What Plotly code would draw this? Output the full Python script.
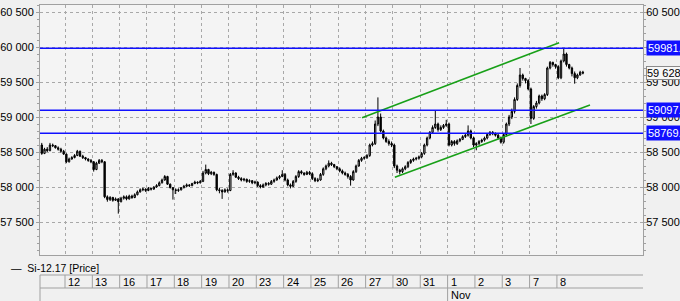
import plotly.graph_objects as go

# ---------------- data ----------------
day_labels = ["", "12", "13", "16", "17", "18", "19", "20", "23", "24", "25",
              "26", "27", "30", "31", "1", "2", "3", "7", "8"]
bars_per_day = [9] + [10] * 19
month_label = "Nov"
month_day = "1"

first_open = 58600
closes = [
    58480, 58540, 58520, 58600, 58590, 58560, 58540, 58510, 58470,
    58360, 58400, 58420, 58450, 58510, 58440, 58420, 58400, 58380, 58360,
    58250, 58340, 58380, 58360, 57860, 57820, 57850, 57810, 57830, 57790,
    57840, 57860, 57830, 57870, 57850, 57890, 57930, 57960, 57970, 57950,
    57980, 57970, 58000, 58020, 58060, 58100, 58150, 58040, 57990, 57960,
    57950, 57960, 57990, 58010, 58030, 58020, 58050, 58070, 58060, 58080,
    58200, 58250, 58190, 58210, 58180, 57960, 57950, 57930, 57960, 57950,
    58180, 58200, 58140, 58120, 58100, 58110, 58080, 58090, 58060, 58070,
    58020, 58000, 58030, 58050, 58040, 58080, 58100, 58130, 58150, 58180,
    58100, 58030, 58010, 58080, 58150, 58220, 58200, 58180, 58210, 58190,
    58120, 58090, 58100, 58180, 58260, 58300, 58340, 58320, 58290, 58260,
    58230, 58200, 58180, 58150, 58100, 58220, 58300, 58380, 58410, 58420,
    58450, 58600, 58620, 58900, 59000, 58800, 58700, 58650, 58620, 58600,
    58300, 58240, 58220, 58260, 58290, 58350, 58380, 58400, 58410, 58430,
    58480, 58600, 58700, 58780, 58850, 58900, 58820, 58850, 58880, 58900,
    58600, 58650, 58620, 58660, 58680, 58720, 58740, 58800, 58700, 58600,
    58620, 58650, 58670, 58700, 58750, 58780, 58760, 58740, 58700, 58640,
    58750, 58900, 59000, 59080, 59250, 59450, 59600, 59550, 59520, 59400,
    58980, 59150, 59200, 59300, 59260, 59320, 59700, 59780, 59750, 59720,
    59560, 59800, 59900, 59750, 59700, 59620, 59560, 59600, 59640, 59628,
]
highs = [
    58630, 58560, 58570, 58630, 58620, 58600, 58580, 58560, 58530,
    58480, 58420, 58440, 58470, 58530, 58520, 58460, 58430, 58410, 58400,
    58370, 58360, 58400, 58400, 58370, 57880, 57870, 57860, 57850, 57840,
    57860, 57880, 57880, 57890, 57890, 57910, 57950, 57980, 57990, 57980,
    58000, 57990, 58010, 58040, 58080, 58120, 58170, 58160, 58050, 58000,
    57980, 57980, 58000, 58030, 58050, 58040, 58060, 58090, 58080, 58100,
    58230, 58320, 58260, 58230, 58220, 58190, 57990, 57970, 57980, 57980,
    58200, 58240, 58210, 58160, 58140, 58130, 58120, 58110, 58100, 58090,
    58080, 58040, 58050, 58070, 58070, 58100, 58120, 58150, 58170, 58240,
    58200, 58120, 58050, 58100, 58170, 58240, 58240, 58210, 58230, 58230,
    58210, 58140, 58130, 58200, 58280, 58320, 58380, 58360, 58330, 58300,
    58280, 58250, 58220, 58200, 58170, 58240, 58320, 58400, 58430, 58440,
    58470, 58620, 58650, 58950, 59280, 59050, 58820, 58720, 58680, 58650,
    58620, 58320, 58260, 58280, 58310, 58370, 58400, 58420, 58430, 58450,
    58500, 58620, 58720, 58800, 58880, 59090, 58920, 58880, 58900, 58960,
    58920, 58670, 58670, 58680, 58700, 58740, 58770, 58880, 58820, 58720,
    58640, 58670, 58690, 58720, 58770, 58800, 58800, 58780, 58760, 58720,
    58770, 58920, 59030, 59120, 59280, 59480, 59700, 59620, 59560, 59540,
    59420, 59170, 59230, 59320, 59320, 59340, 59720, 59800, 59790, 59760,
    59740, 59820, 59985, 59920, 59760, 59720, 59650, 59620, 59660, 59660,
]
lows = [
    58460, 58470, 58500, 58510, 58570, 58550, 58520, 58490, 58460,
    58340, 58350, 58390, 58410, 58440, 58430, 58400, 58380, 58360, 58340,
    58220, 58240, 58330, 58340, 57840, 57790, 57800, 57790, 57800, 57620,
    57780, 57820, 57810, 57820, 57830, 57840, 57880, 57920, 57940, 57930,
    57940, 57950, 57960, 57990, 58010, 58050, 58090, 58030, 57980, 57820,
    57900, 57930, 57950, 57980, 58000, 58000, 58010, 58040, 58040, 58050,
    58070, 58180, 58170, 58170, 58160, 57940, 57910, 57830, 57920, 57920,
    57940, 58160, 58130, 58100, 58080, 58080, 58060, 58060, 58040, 58040,
    58000, 57980, 57990, 58010, 58020, 58030, 58060, 58090, 58110, 58140,
    58080, 58010, 57980, 58000, 58060, 58130, 58180, 58160, 58170, 58170,
    58100, 58070, 58070, 58090, 58160, 58240, 58280, 58300, 58270, 58240,
    58210, 58180, 58160, 58120, 58020, 58090, 58200, 58290, 58360, 58390,
    58400, 58430, 58580, 58600, 58870, 58780, 58680, 58630, 58590, 58570,
    58270, 58200, 58180, 58200, 58240, 58270, 58330, 58360, 58380, 58390,
    58410, 58460, 58580, 58680, 58760, 58830, 58790, 58800, 58830, 58860,
    58580, 58580, 58590, 58600, 58640, 58670, 58700, 58720, 58680, 58570,
    58525, 58600, 58630, 58650, 58680, 58730, 58740, 58720, 58680, 58620,
    58620, 58720, 58870, 58970, 59050, 59230, 59420, 59520, 59480, 59380,
    58900, 58960, 59120, 59180, 59230, 59240, 59300, 59680, 59720, 59690,
    59540, 59540, 59780, 59720, 59680, 59580, 59476, 59540, 59590, 59610,
]
opens = [first_open] + closes[:-1]

# horizontal levels (blue) and their labels
levels = [59981, 59097, 58769]
level_labels = ["59981.00", "59097.00", "58769.00"]
last_price = 59628
last_price_label = "59 628"

# trend channel (green) : (day position, price)
upper_x = [10.87, 18.08]
upper_y = [58990, 60061]
lower_x = [12.07, 19.21]
lower_y = [58139, 59171]

y_range = [57028.6, 60600]
x_range = [-0.915, 21.15]
series_name = "Si-12.17 [Price]"

# ---------------- positions of bars (time axis in trading days) ----------------
xs = []
for d, n in enumerate(bars_per_day):
    k = d - 1
    start = 10 - n
    for i in range(n):
        xs.append(k + (start + i + 0.5) / 10)

FONT = "Liberation Sans"
GRID = "#a8a8a8"
BORDER = "#a0a0a0"
BLUE = "#1010ff"
GREEN = "#18a018"

fig = go.Figure()

fig.add_trace(go.Candlestick(
    x=xs, open=opens, high=highs, low=lows, close=closes,
    increasing=dict(line=dict(color="#000000", width=1), fillcolor="#c8c8c8"),
    decreasing=dict(line=dict(color="#000000", width=1), fillcolor="#000000"),
    whiskerwidth=0, showlegend=False, hoverinfo="skip",
))

fig.add_trace(go.Scatter(x=upper_x, y=upper_y, mode="lines",
                         line=dict(color=GREEN, width=1.5), showlegend=False,
                         hoverinfo="skip", yaxis="y2"))
fig.add_trace(go.Scatter(x=lower_x, y=lower_y, mode="lines",
                         line=dict(color=GREEN, width=1.5), showlegend=False,
                         hoverinfo="skip", yaxis="y2"))

shapes = []
annotations = []

# blue level lines + labels
for lv, lab in zip(levels, level_labels):
    shapes.append(dict(type="line", xref="paper", x0=0, x1=1, yref="y", y0=lv, y1=lv,
                       line=dict(color=BLUE, width=1.5), layer="above"))
    annotations.append(dict(xref="paper", x=1, xanchor="left", xshift=3,
                            yref="y", y=lv, yanchor="middle", text=lab,
                            showarrow=False, bgcolor=BLUE, borderpad=1,
                            font=dict(family=FONT, size=11, color="#ffffff")))

annotations.append(dict(xref="paper", x=1, xanchor="left", xshift=3,
                        yref="y", y=last_price, yanchor="middle", text=last_price_label,
                        showarrow=False, bgcolor="#f7f7f7", bordercolor="#8a8a8a",
                        borderwidth=1, borderpad=0,
                        font=dict(family=FONT, size=11, color="#000000")))

# date row below the chart
row_top = -0.08
row_bot = -0.132
bottom = -0.19
shapes.append(dict(type="line", xref="paper", x0=0, x1=1, yref="paper", y0=row_top, y1=row_top,
                   line=dict(color=BORDER, width=1)))
shapes.append(dict(type="line", xref="paper", x0=0, x1=1, yref="paper", y0=row_bot, y1=row_bot,
                   line=dict(color=BORDER, width=1)))
shapes.append(dict(type="line", xref="paper", x0=0, x1=0, yref="paper", y0=row_top, y1=bottom,
                   line=dict(color=BORDER, width=1)))
for k, lab in enumerate(day_labels[1:]):
    y1 = bottom if lab == month_day else row_bot
    shapes.append(dict(type="line", xref="x", x0=k, x1=k, yref="paper", y0=row_top, y1=y1,
                       line=dict(color=BORDER, width=1)))
    annotations.append(dict(xref="x", x=k, xanchor="left", xshift=1,
                            yref="paper", y=(row_top + row_bot) / 2, yanchor="middle",
                            text=lab, showarrow=False,
                            font=dict(family=FONT, size=11, color="#000000")))
    if lab == month_day:
        annotations.append(dict(xref="x", x=k, xanchor="left", xshift=1,
                                yref="paper", y=-0.16, yanchor="middle",
                                text=month_label, showarrow=False,
                                font=dict(family=FONT, size=11, color="#000000")))

# legend text
annotations.append(dict(xref="paper", x=0, xanchor="left", xshift=-31,
                        yref="paper", y=-0.052, yanchor="middle",
                        text="\u2014  " + series_name, showarrow=False,
                        font=dict(family=FONT, size=10.5, color="#000000")))

yaxis_common = dict(
    range=y_range, dtick=500, tick0=0, tickformat=",d",
    ticks="outside", ticklen=3, tickcolor=BORDER,
    minor=dict(dtick=100, tick0=0, ticks="outside", ticklen=2, tickcolor=BORDER, showgrid=False),
    showline=True, linecolor=BORDER, linewidth=1,
    zeroline=False, fixedrange=True, automargin=False,
    tickfont=dict(family=FONT, size=11, color="#000000"),
)

fig.update_layout(
    width=680, height=301,
    margin=dict(l=40, r=37, t=5, b=46, autoexpand=False),
    paper_bgcolor="#f0f0f0",
    plot_bgcolor="#f4f4f4",
    separators=". ",
    showlegend=False,
    xaxis=dict(range=x_range, tickvals=list(range(len(day_labels) - 1)),
               showticklabels=False, ticks="", automargin=False,
               showgrid=True, gridcolor=GRID, griddash="dot", gridwidth=1,
               showline=True, linecolor=BORDER, mirror=True, zeroline=False,
               rangeslider=dict(visible=False), fixedrange=True),
    yaxis=dict(side="left", showgrid=True, gridcolor=GRID, griddash="dot", gridwidth=1,
               **yaxis_common),
    yaxis2=dict(side="right", overlaying="y", showgrid=False,
                ticklabelstandoff=-3, **yaxis_common),
    shapes=shapes,
    annotations=annotations,
    font=dict(family=FONT, size=11, color="#000000"),
)

fig.write_html("out.html")
